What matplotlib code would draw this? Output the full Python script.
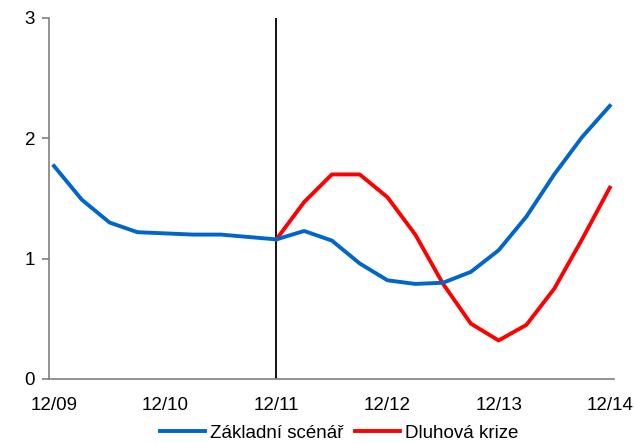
import numpy as np
import matplotlib.pyplot as plt

plt.rcParams['font.family'] = ['Liberation Sans', 'DejaVu Sans']

# čtvrtletní data 12/09 - 12/14
zakladni = [1.77, 1.49, 1.30, 1.22, 1.21, 1.20, 1.20, 1.18, 1.16,
            1.23, 1.15, 0.96, 0.82, 0.79, 0.80, 0.89, 1.07, 1.35, 1.70, 2.01, 2.27]
# krizový scénář začíná od 12/11
krize = [1.16, 1.47, 1.70, 1.70, 1.51, 1.20, 0.79, 0.46, 0.32, 0.45, 0.75, 1.16, 1.59]
tick_labels = ['12/09', '12/10', '12/11', '12/12', '12/13', '12/14']

x_zakl = np.arange(len(zakladni))
x_krize = np.arange(8, 8 + len(krize))

fig = plt.figure(figsize=(6.34, 4.43), dpi=100)
ax = fig.add_axes([0.0773, 0.1445, 0.8907, 0.8149])

ax.axvline(8, color='black', lw=1.3, zorder=1)
ax.plot(x_zakl, zakladni, color='#0066CC', lw=2.8, label='Základní scénář', zorder=3)
ax.plot(x_krize, krize, color='#FF0000', lw=2.8, label='Dluhová krize', zorder=2)

ax.set_xlim(-0.18, 20.14)
ax.set_ylim(0, 3)
ax.set_xticks(np.arange(0, 21, 4))
ax.set_xticklabels(tick_labels)
ax.set_yticks([0, 1, 2, 3])

for s in ['top', 'right']:
    ax.spines[s].set_visible(False)
for s in ['left', 'bottom']:
    ax.spines[s].set_color('#808080')
    ax.spines[s].set_linewidth(1.2)

ax.tick_params(axis='x', length=0, pad=13, labelsize=13.5)
ax.tick_params(axis='y', length=5, width=1.2, color='#808080', pad=5, labelsize=13.5)

fig.legend(loc='lower center', bbox_to_anchor=(0.535, -0.035), ncol=2, frameon=False,
           fontsize=13.5, handlelength=2.4, columnspacing=0.6, handletextpad=0.3)

fig.savefig('out.png', dpi=100)
